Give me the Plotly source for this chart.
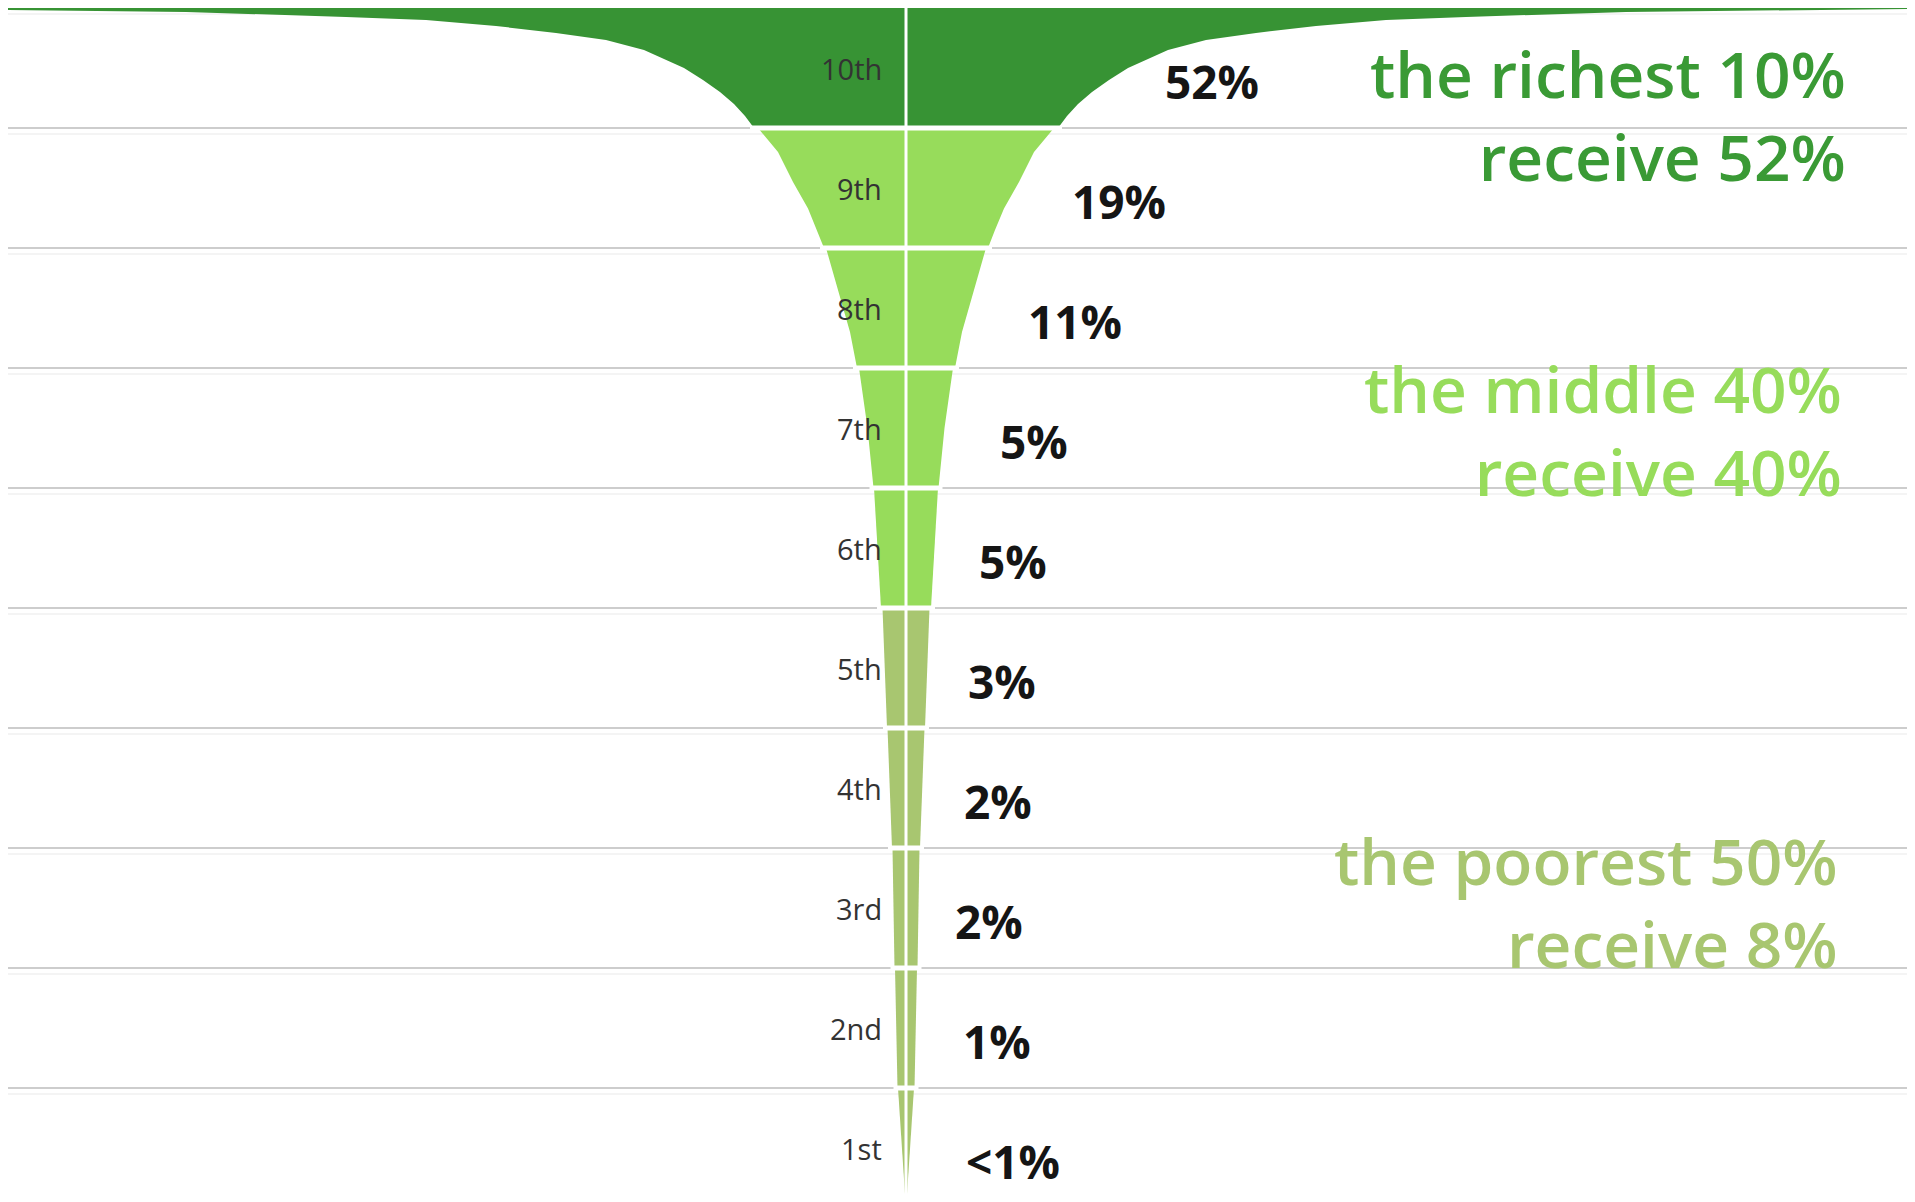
import plotly.graph_objects as go

# ---------------- data ----------------
deciles = ["1st", "2nd", "3rd", "4th", "5th", "6th", "7th", "8th", "9th", "10th"]
share_labels = ["<1%", "1%", "2%", "2%", "3%", "5%", "5%", "11%", "19%", "52%"]
decile_group = ["poor", "poor", "poor", "poor", "poor",
                "middle", "middle", "middle", "middle", "rich"]

# outline of the funnel: for every decile, positions on the decile scale
# (0 = bottom of 1st, 10 = top of 10th) and the half-width at that position
edge_pos = [
    [1.0, 0.05],
    [2.0, 1.0],
    [3.0, 2.0],
    [4.0, 3.5, 3.0],
    [5.0, 4.5, 4.0],
    [6.0, 5.5, 5.0],
    [7.0, 6.5, 6.0],
    [8.0, 7.6, 7.3, 7.0],
    [9.0, 8.8, 8.55, 8.33, 8.15, 8.0],
    [10.0, 9.983, 9.967, 9.925, 9.9, 9.85, 9.792, 9.733, 9.65, 9.5, 9.4, 9.3, 9.2, 9.1, 9.0],
]
edge_halfwidth = [
    [8, 0.5],
    [11, 8.5],
    [13.5, 11.5],
    [18.5, 16, 14],
    [23.5, 21, 19],
    [32, 28.5, 25],
    [47, 38.5, 32.5],
    [80, 66, 56, 49],
    [148, 128, 113, 98, 89, 82],
    [1100, 900, 720, 560, 480, 410, 350, 300, 262, 222, 203, 186, 172, 161, 152],
]

group_text = {
    "rich": "the richest 10%<br>receive 52%",
    "middle": "the middle 40%<br>receive 40%",
    "poor": "the poorest 50%<br>receive 8%",
}

# ---------------- styles / layout ----------------
group_color = {"rich": "#379334", "middle": "#97dc5b", "poor": "#a8c670"}
label_color = {"rich": "#3a9a35", "middle": "#97dc5b", "poor": "#a8c670"}
share_offset = [58, 55, 47, 56, 60, 71, 92, 120, 164, 257]   # px right of centre
group_anchor = {"rich": (942, 9.11), "middle": (938, 6.48), "poor": (934, 2.55)}

PAGE_W, PAGE_H = 1915, 1202
BODY = 8          # default page margin around the plot div
CX = 906          # centre of the funnel (page px)
W, H = PAGE_W - BODY, PAGE_H - BODY

fig = go.Figure()

for i, name in enumerate(deciles):
    pos = edge_pos[i]
    hw = edge_halfwidth[i]
    xs = list(hw) + [-h for h in reversed(hw)] + [hw[0]]
    ys = list(pos) + list(reversed(pos)) + [pos[0]]
    fig.add_trace(go.Scatter(
        x=xs, y=ys, mode="lines", fill="toself",
        fillcolor=group_color[decile_group[i]],
        line=dict(width=0), hoverinfo="skip", showlegend=False,
    ))

x_lo, x_hi = BODY - CX, PAGE_W - CX
shapes = []
# grey rules across the page at each decile boundary
for k in range(1, 11):
    shapes.append(dict(type="line", xref="x", yref="y", layer="below",
                       x0=x_lo, x1=x_hi, y0=k, y1=k,
                       line=dict(color="#cdcdcd", width=2)))
    shapes.append(dict(type="line", xref="x", yref="y", layer="below",
                       x0=x_lo, x1=x_hi, y0=k - 0.05, y1=k - 0.05,
                       line=dict(color="#f0f0f0", width=1.5)))
# white gaps between deciles inside the funnel
for i in range(1, 10):
    w = max(edge_halfwidth[i][-1], edge_halfwidth[i - 1][0]) + 4
    shapes.append(dict(type="line", xref="x", yref="y", layer="above",
                       x0=-w, x1=w, y0=i, y1=i,
                       line=dict(color="white", width=5)))
# white centre line
shapes.append(dict(type="line", xref="x", yref="y", layer="above",
                   x0=0, x1=0, y0=0, y1=10,
                   line=dict(color="white", width=3)))

annotations = []
for i, name in enumerate(deciles):
    annotations.append(dict(
        x=-22, y=i + 0.5, xref="x", yref="y", text=name, showarrow=False,
        xanchor="right", yanchor="middle",
        font=dict(family="Open Sans", size=29, color="#333333"),
    ))
    annotations.append(dict(
        x=share_offset[i], y=i + 0.5 - 0.11, xref="x", yref="y",
        text=share_labels[i], showarrow=False,
        xanchor="left", yanchor="middle",
        font=dict(family="Open Sans", size=46, color="#151515", weight=700),
    ))

for g, txt in group_text.items():
    gx, gy = group_anchor[g]
    annotations.append(dict(
        x=gx, y=gy, xref="x", yref="y", text=txt, showarrow=False,
        xanchor="right", yanchor="middle", align="right",
        font=dict(family="Open Sans", size=64, color=label_color[g], weight=600),
    ))

fig.update_layout(
    width=W, height=H,
    margin=dict(l=0, r=0, t=0, b=0),
    paper_bgcolor="white", plot_bgcolor="white",
    xaxis=dict(range=[x_lo, x_hi], visible=False, fixedrange=True),
    yaxis=dict(range=[0.05, 10.0], visible=False, fixedrange=True),
    shapes=shapes, annotations=annotations,
    showlegend=False,
)

fig.write_html("out.html", config={"displayModeBar": False})
